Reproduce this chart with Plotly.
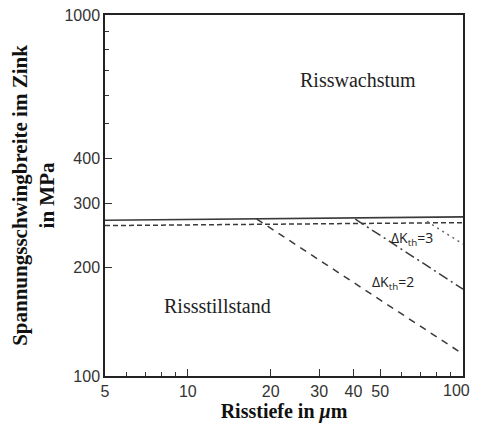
import plotly.graph_objects as go
import math

# Data
solid_x = [5, 100]
solid_y = [270, 276]
dash_h_x = [5, 100]
dash_h_y = [261, 266]
dk2_x = [17.8, 100]
dk2_y = [272, 115]
dk3_x = [40.6, 100]
dk3_y = [272, 174]
dot_x = [74, 100]
dot_y = [268, 232]

x_ticks = [5, 10, 20, 30, 40, 50, 100]
x_minor = [6, 7, 8, 9, 60, 70, 80, 90]
y_ticks = [100, 200, 300, 400, 1000]
y_minor = [500, 600, 700, 800, 900]

line_col = "#3a3a3a"
fig = go.Figure()
fig.add_trace(go.Scatter(x=solid_x, y=solid_y, mode="lines",
                         line=dict(color=line_col, width=1.6)))
fig.add_trace(go.Scatter(x=dash_h_x, y=dash_h_y, mode="lines",
                         line=dict(color=line_col, width=1.5, dash="5px,3px")))
fig.add_trace(go.Scatter(x=dk2_x, y=dk2_y, mode="lines",
                         line=dict(color=line_col, width=1.5, dash="7px,6px")))
fig.add_trace(go.Scatter(x=dk3_x, y=dk3_y, mode="lines",
                         line=dict(color=line_col, width=1.5, dash="10px,4px,2px,4px")))
fig.add_trace(go.Scatter(x=dot_x, y=dot_y, mode="lines",
                         line=dict(color="#666666", width=1.5, dash="2px,4px")))

tickfont = dict(family="Liberation Sans, Arial", size=16, color="#333333")
# last x tick label is drawn as an annotation so it is not clipped at the edge
x_ticktext = [str(v) for v in x_ticks[:-1]] + [""]
fig.update_xaxes(type="log", range=[math.log10(5), 2], tickvals=x_ticks,
                 ticktext=x_ticktext, ticks="inside", ticklen=7,
                 tickcolor="#333", showgrid=False, zeroline=False, automargin=False,
                 ticklabeloverflow="allow",
                 showline=True, linecolor="#222", linewidth=1.5, mirror=True,
                 tickfont=tickfont,
                 minor=dict(tickvals=x_minor, ticks="inside", ticklen=4,
                            tickcolor="#333", showgrid=False),
                 title=dict(text="<b>Risstiefe in <i>μ</i>m</b>",
                            font=dict(family="Liberation Serif, serif", size=20, color="#111"),
                            standoff=5))
fig.update_yaxes(type="log", range=[2, 3], tickvals=y_ticks,
                 ticktext=[str(v) for v in y_ticks], ticks="inside", ticklen=7,
                 tickcolor="#333", showgrid=False, zeroline=False, automargin=False,
                 ticklabeloverflow="allow",
                 showline=True, linecolor="#222", linewidth=1.5, mirror=True,
                 tickfont=tickfont,
                 minor=dict(tickvals=y_minor, ticks="inside", ticklen=4,
                            tickcolor="#333", showgrid=False),
                 title=dict(text="<b>Spannungsschwingbreite im Zink<br>in MPa</b>",
                            font=dict(family="Liberation Serif, serif", size=21, color="#111"),
                            standoff=4))

fig.add_annotation(x=1, y=0, xref="paper", yref="paper", text=str(x_ticks[-1]),
                   showarrow=False, xanchor="right", yanchor="middle",
                   xshift=9, yshift=-14, font=tickfont)

serif = dict(family="Liberation Serif, serif", size=20, color="#222")
sans = dict(family="Open Sans, sans-serif", size=14, color="#222")
fig.add_annotation(x=1.619, y=2.82, xref="x", yref="y", text="Risswachstum",
                   showarrow=False, font=serif)
fig.add_annotation(x=1.106, y=2.194, xref="x", yref="y", text="Rissstillstand",
                   showarrow=False, font=serif)
fig.add_annotation(x=1.815, y=2.382, xref="x", yref="y", text="ΔK<sub>th</sub>=3",
                   showarrow=False, font=sans)
fig.add_annotation(x=1.746, y=2.258, xref="x", yref="y", text="ΔK<sub>th</sub>=2",
                   showarrow=False, font=sans)

fig.update_layout(width=472, height=416, showlegend=False,
                  margin=dict(l=97, r=17, t=7, b=48),
                  plot_bgcolor="white", paper_bgcolor="white")
fig.write_html("out.html")
